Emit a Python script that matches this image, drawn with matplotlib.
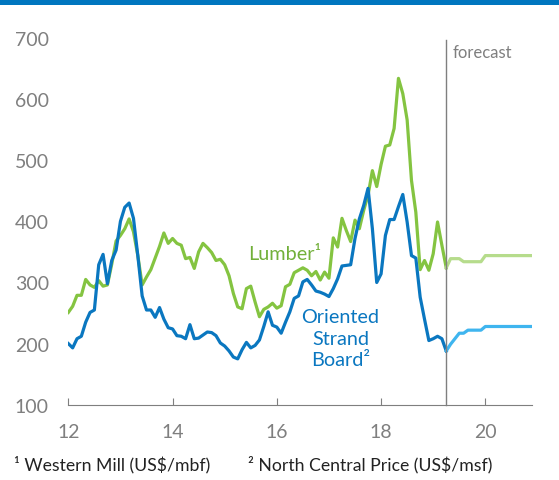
import numpy as np
import matplotlib
matplotlib.use("Agg")
import matplotlib.pyplot as plt
from matplotlib.patches import Rectangle

plt.rcParams['font.family'] = ['Lato', 'DejaVu Sans']

# monthly prices, Jan 2012 -> Apr 2019 (actual)
lumber = [251, 261, 279, 279, 305, 296, 292, 303, 294, 296,
          330, 368, 377, 388, 404, 383, 344, 296, 309, 321,
          340, 359, 381, 364, 372, 364, 361, 339, 341, 323,
          350, 364, 357, 349, 336, 338, 329, 311, 282, 260,
          257, 290, 294, 268, 244, 256, 260, 266, 258, 262,
          293, 297, 316, 320, 324, 320, 311, 318, 304, 317,
          307, 373, 358, 405, 385, 367, 402, 388, 418, 443,
          483, 457, 493, 523, 525, 552, 634, 609, 566, 467,
          415, 321, 336, 320, 347, 399, 361, 324]
osb = [200, 193, 208, 212, 235, 251, 255, 329, 346, 298,
       336, 353, 400, 423, 430, 405, 344, 278, 255, 255,
       243, 259, 240, 226, 224, 213, 212, 208, 231, 208,
       209, 214, 219, 218, 213, 201, 196, 188, 178, 175,
       190, 202, 193, 197, 206, 228, 252, 230, 227, 217,
       235, 252, 274, 278, 301, 305, 296, 286, 284, 281,
       277, 290, 306, 327, 328, 329, 372, 404, 426, 454,
       388, 300, 314, 377, 403, 403, 424, 444, 399, 344,
       340, 276, 240, 205, 208, 212, 208, 188]

# forecast, Apr 2019 -> Dec 2020
lumber_fc = [324, 339, 339, 339, 334, 334, 334, 334, 334, 344,
             344, 344, 344, 344, 344, 344, 344, 344, 344, 344, 344]
osb_fc = [188, 199, 208, 217, 217, 222, 222, 222, 222, 228,
          228, 228, 228, 228, 228, 228, 228, 228, 228, 228, 228]

x_act = 12 + np.arange(len(lumber)) / 12
x_fc = x_act[-1] + np.arange(len(lumber_fc)) / 12
forecast_start = x_act[-1]

green = '#84c441'
green_fc = '#b6dc8c'
blue = '#0a77c0'
blue_fc = '#3fb5ef'
grey = '#7f7f7f'

fig = plt.figure(figsize=(5.59, 4.81), dpi=100)
ax = fig.add_axes([0.1222, 0.1565, 0.8290, 0.7624])

ax.plot(x_act, lumber, color=green, lw=2.3, solid_joinstyle='round')
ax.plot(x_fc, lumber_fc, color=green_fc, lw=2.3)
ax.plot(x_act, osb, color=blue, lw=2.3, solid_joinstyle='round')
ax.plot(x_fc, osb_fc, color=blue_fc, lw=2.3)

ax.plot([forecast_start, forecast_start], [100, 697], color=grey, lw=1, clip_on=False)
ax.text(forecast_start + 0.13, 690, 'forecast', color=grey, fontsize=12,
        ha='left', va='top')

ax.text(15.45, 348, 'Lumber¹', color='#72b03a', fontsize=14.3, ha='left', va='center')
ax.text(17.22, 209, 'Oriented\nStrand\nBoard²', color=blue, fontsize=14.3,
        ha='center', va='center', linespacing=1.32)

ax.set_xlim(12, 20.89)
ax.set_ylim(100, 700)
ax.set_xticks([12, 14, 16, 18, 20])
ax.set_yticks([100, 200, 300, 400, 500, 600, 700])
for s in ['top', 'right', 'left']:
    ax.spines[s].set_visible(False)
ax.spines['bottom'].set_color(grey)
ax.tick_params(axis='x', direction='in', length=5, color=grey, labelcolor=grey,
               labelsize=14, pad=13)
ax.tick_params(axis='y', length=0, labelcolor=grey, labelsize=14, pad=14)

fig.add_artist(Rectangle((0, 1 - 6 / 481), 1, 6 / 481, transform=fig.transFigure,
                         color='#0076bf', lw=0))
fig.text(14 / 559, 1 - 465 / 481, '¹ Western Mill (US$/mbf)', fontsize=12.7,
         color='#222222', ha='left', va='center')
fig.text(248 / 559, 1 - 465 / 481, '² North Central Price (US$/msf)', fontsize=12.7,
         color='#222222', ha='left', va='center')

fig.savefig('out.png', dpi=100)
